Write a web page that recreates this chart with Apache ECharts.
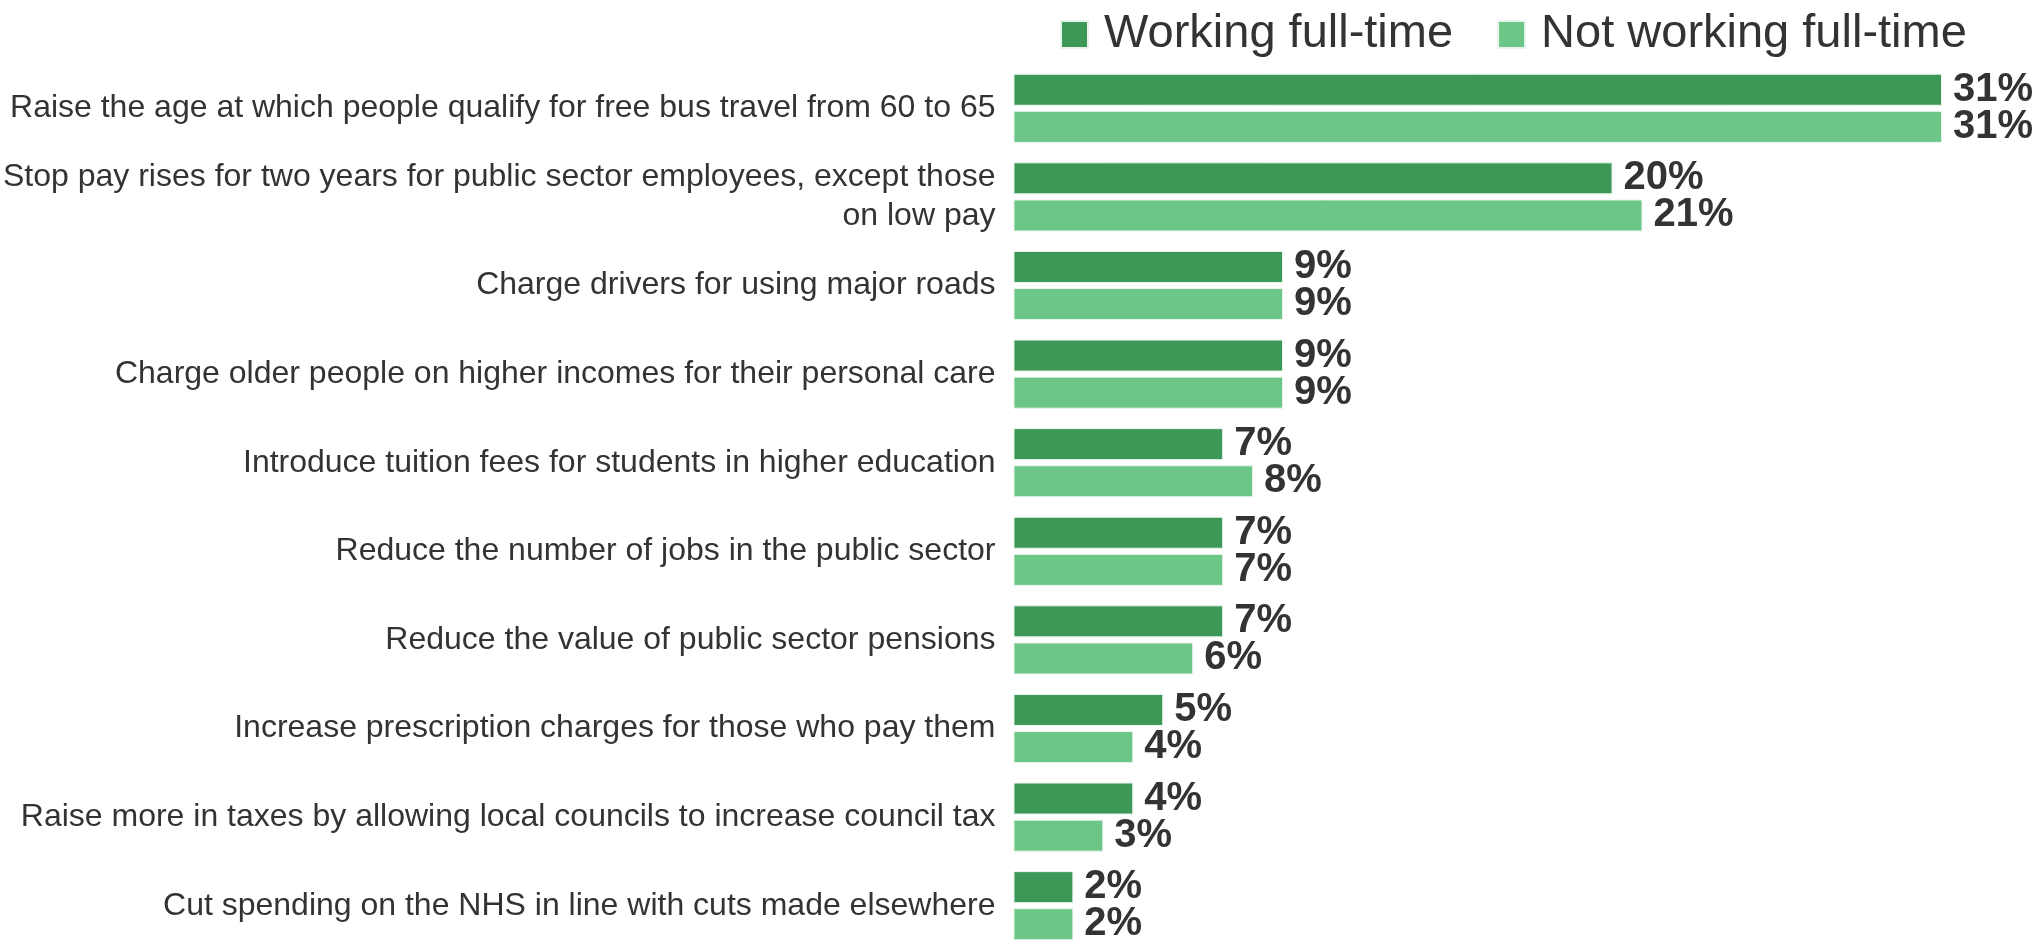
<!DOCTYPE html>
<html>
<head>
<meta charset="utf-8">
<script src="https://cdn.jsdelivr.net/npm/echarts@6/dist/echarts.min.js"></script>
<style>
html,body{margin:0;padding:0;background:#fff;}
#chart{width:2038px;height:950px;}
</style>
</head>
<body>
<div id="chart"></div>
<script>
const categories = [
  "Raise the age at which people qualify for free bus travel from 60 to 65",
  "Stop pay rises for two years for public sector employees, except those\non low pay",
  "Charge drivers for using major roads",
  "Charge older people on higher incomes for their personal care",
  "Introduce tuition fees for students in higher education",
  "Reduce the number of jobs in the public sector",
  "Reduce the value of public sector pensions",
  "Increase prescription charges for those who pay them",
  "Raise more in taxes by allowing local councils to increase council tax",
  "Cut spending on the NHS in line with cuts made elsewhere"
];
const seriesNames = ["Working full-time", "Not working full-time"];
const workingFullTime = [31, 20, 9, 9, 7, 7, 7, 5, 4, 2];
const notWorkingFullTime = [31, 21, 9, 9, 8, 7, 6, 4, 3, 2];

const chart = echarts.init(document.getElementById('chart'));
const labelStyle = {
  show: true,
  position: 'right',
  distance: 11,
  formatter: '{c}%',
  color: '#333333',
  fontFamily: '"Liberation Sans", Arial, sans-serif',
  fontWeight: 'bold',
  fontSize: 40
};
chart.setOption({
  animation: false,
  backgroundColor: '#ffffff',
  legend: {
    data: seriesNames,
    left: 1055,
    top: 6,
    itemWidth: 27,
    itemHeight: 27,
    itemGap: 44,
    icon: 'rect',
    textStyle: {
      fontFamily: '"Liberation Sans", Arial, sans-serif',
      fontSize: 47,
      color: '#333333',
      padding: [0, 0, 0, 11]
    }
  },
  grid: {
    left: 1012,
    right: 96,
    top: 64,
    height: 895
  },
  xAxis: {
    type: 'value',
    min: 0,
    max: 31,
    show: false,
    splitLine: { show: false }
  },
  yAxis: {
    type: 'category',
    data: categories,
    inverse: true,
    axisLine: { show: false },
    axisTick: { show: false },
    axisLabel: {
      margin: 18,
      color: '#333333',
      fontFamily: '"Liberation Sans", Arial, sans-serif',
      fontSize: 32,
      lineHeight: 39,
      align: 'right'
    }
  },
  series: [
    {
      name: seriesNames[0],
      type: 'bar',
      data: workingFullTime,
      barWidth: 32,
      barGap: '16%',
      itemStyle: { color: '#3d9858', borderColor: '#e9f5ec', borderWidth: 1 },
      label: labelStyle
    },
    {
      name: seriesNames[1],
      type: 'bar',
      data: notWorkingFullTime,
      barWidth: 32,
      itemStyle: { color: '#6cc687', borderColor: '#e9f5ec', borderWidth: 1 },
      label: labelStyle
    }
  ]
});
</script>
</body>
</html>
